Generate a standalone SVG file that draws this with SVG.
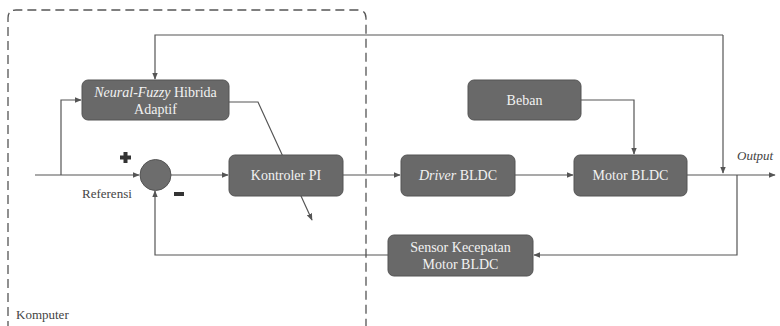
<svg xmlns="http://www.w3.org/2000/svg" width="780" height="326" viewBox="0 0 780 326">
<defs>
<style>
.box{fill:#696969;stroke:#555;stroke-width:1}
.bt{font-size:14px;fill:#f2f2f2;text-anchor:middle}
.lt{font-size:13px;fill:#444}
.ln{fill:none;stroke:#555;stroke-width:1.2}
</style>
<marker id="ah" viewBox="0 0 10 10" refX="9" refY="5" markerWidth="7" markerHeight="7" orient="auto" markerUnits="userSpaceOnUse">
<path d="M0,1 L10,5 L0,9 z" fill="#555"/>
</marker>
</defs>
<rect width="780" height="326" fill="#fff"/>
<path d="M8,330 L8,18 Q8,10 16,10 L358,10 Q366,10 366,18 L366,330" fill="none" stroke="#555" stroke-width="1.3" stroke-dasharray="9,5"/>
<g font-family="Liberation Serif, DejaVu Serif, serif">
<text class="lt" x="16" y="319">Komputer</text>
<g id="connectors">
<path class="ln" d="M723,35 L155,35 L155,79" marker-end="url(#ah)"/>
<path class="ln" d="M723,35 L723,173" marker-end="url(#ah)"/>
<path class="ln" d="M61,175 L61,100 L81,100" marker-end="url(#ah)"/>
<path class="ln" d="M35,175 L139,175" marker-end="url(#ah)"/>
<path class="ln" d="M171,175 L228,175" marker-end="url(#ah)"/>
<path class="ln" d="M229,102 L258,102 L312,220" marker-end="url(#ah)"/>
<path class="ln" d="M343,175 L400,175" marker-end="url(#ah)"/>
<path class="ln" d="M515,175 L573,175" marker-end="url(#ah)"/>
<path class="ln" d="M581,100 L634,100 L634,154" marker-end="url(#ah)"/>
<path class="ln" d="M687,175 L775,175" marker-end="url(#ah)"/>
<path class="ln" d="M737,175 L737,255 L534,255" marker-end="url(#ah)"/>
<path class="ln" d="M388,255 L155,255 L155,191" marker-end="url(#ah)"/>
</g>
<g id="neuralfuzzy">
<rect class="box" x="82" y="80" width="147" height="40" rx="6"/>
<text class="bt" x="155.5" y="97"><tspan font-style="italic">Neural-Fuzzy</tspan> Hibrida</text>
<text class="bt" x="155.5" y="114">Adaptif</text>
</g>
<g id="sum">
<circle cx="155.5" cy="175" r="15.5" fill="#6d6d6d" stroke="#555"/>
<path d="M123.5,152 h4 v3.5 h3.5 v4 h-3.5 v3.5 h-4 v-3.5 h-3.5 v-4 h3.5 z" fill="#333"/>
<rect x="174" y="192" width="10" height="4" fill="#333"/>
<text class="lt" x="82" y="198">Referensi</text>
</g>
<g id="kontroler">
<rect class="box" x="229" y="155" width="114" height="41" rx="6"/>
<text class="bt" x="286" y="180">Kontroler PI</text>
</g>
<g id="driver">
<rect class="box" x="401" y="155" width="114" height="41" rx="6"/>
<text class="bt" x="458" y="180"><tspan font-style="italic">Driver</tspan> BLDC</text>
</g>
<g id="beban">
<rect class="box" x="468" y="80" width="113" height="40" rx="6"/>
<text class="bt" x="524.5" y="105">Beban</text>
</g>
<g id="motor">
<rect class="box" x="574" y="155" width="113" height="41" rx="6"/>
<text class="bt" x="630.5" y="180">Motor BLDC</text>
</g>
<g id="sensor">
<rect class="box" x="388" y="235" width="145" height="41" rx="6"/>
<text class="bt" x="460.5" y="252">Sensor Kecepatan</text>
<text class="bt" x="460.5" y="269">Motor BLDC</text>
</g>
<text class="lt" x="737" y="160" font-style="italic">Output</text>
</g>
</svg>
